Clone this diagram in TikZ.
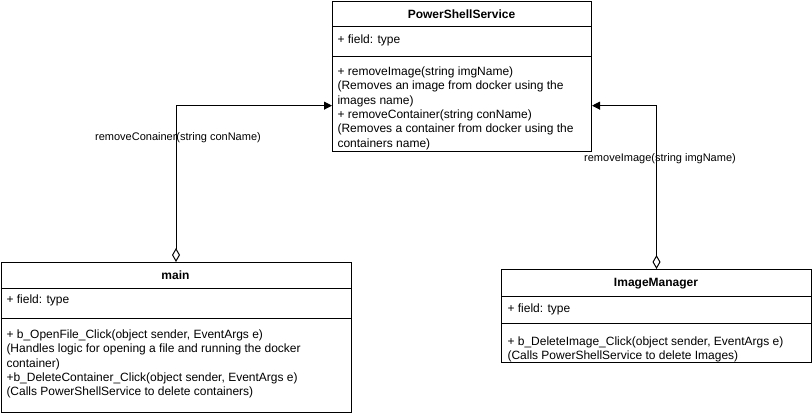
\documentclass[tikz,border=0pt]{standalone}
\usepackage{fontspec}
\setmainfont{Liberation Sans}
\usetikzlibrary{arrows.meta,calc}
\begin{document}
\begin{tikzpicture}[x=0.75pt,y=-0.75pt,line width=0.75pt,
  classbox/.style={draw,anchor=north west,inner sep=0pt},
  title/.style={font=\bfseries\fontsize{9}{10.7}\selectfont,anchor=center,inner sep=0pt},
  member/.style={font=\fontsize{9}{10.7}\selectfont,anchor=north west,align=left,inner sep=0pt},
  edgelabel/.style={font=\fontsize{8.25}{10}\selectfont,inner sep=0pt},
  assoc/.style={{Diamond[open,length=10.5pt,width=6pt]}-{Triangle[length=6pt,width=6pt]}}
]
\useasboundingbox (0,0) rectangle (812,416);
% PowerShellService
\node[classbox,minimum width=259*0.75pt,minimum height=150*0.75pt] (pss) at (332,1) {};
\draw (332,27) -- (591,27);
\draw (332,57) -- (591,57);
\node[title] (psst) at (461.5,14) {PowerShellService};
\node[member] (pssf) at (337,34.5) {+ field: type};
\node[member] (pssm) at (337,66.5) {+ removeImage(string imgName)\\(Removes an image from docker using the\\images name)\\+ removeContainer(string conName)\\(Removes a container from docker using the\\containers name)};
% main
\node[classbox,minimum width=350*0.75pt,minimum height=150*0.75pt] (main) at (0.5,262) {};
\draw (0.5,288) -- (350.5,288);
\draw (0.5,318) -- (350.5,318);
\node[title] (maint) at (175.5,275.5) {main};
\node[member] (mainf) at (6,294.5) {+ field: type};
\node[member] (mainm) at (6,329.5) {+ b\_OpenFile\_Click(object sender, EventArgs e)\\(Handles logic for opening a file and running the docker\\container)\\+b\_DeleteContainer\_Click(object sender, EventArgs e)\\(Calls PowerShellService to delete containers)};
% ImageManager
\node[classbox,minimum width=310*0.75pt,minimum height=93*0.75pt] (im) at (501,269) {};
\draw (501,296) -- (811,296);
\draw (501,323) -- (811,323);
\node[title] (imt) at (656,283.5) {ImageManager};
\node[member] (imf) at (507,303) {+ field: type};
\node[member] (imm) at (507,336.5) {+ b\_DeleteImage\_Click(object sender, EventArgs e)\\(Calls PowerShellService to delete Images)};
% connectors
\draw[assoc] (main.north) |- ($(pss.north west)!0.693!(pss.south west)$);
\draw[assoc] (im.north) |- ($(pss.north east)!0.693!(pss.south east)$);
\node[edgelabel] (l1) at (178,137.5) {removeConainer(string conName)};
\node[edgelabel] (l2) at (660,158.5) {removeImage(string imgName)};
\end{tikzpicture}
\end{document}
